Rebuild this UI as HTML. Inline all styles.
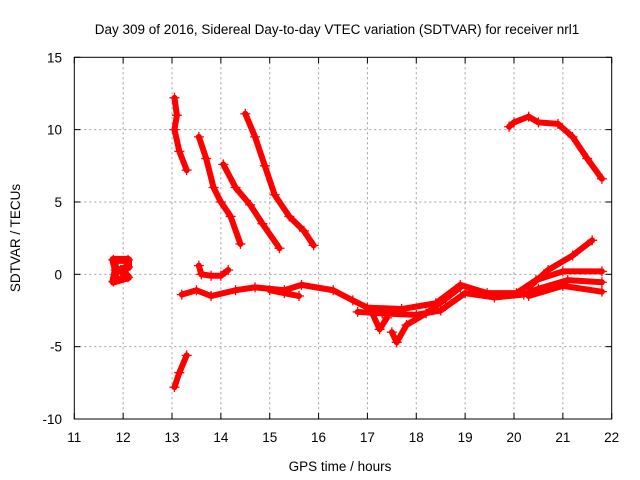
<!DOCTYPE html>
<html><head><meta charset="utf-8"><style>
body{margin:0;background:#fff;}
svg{display:block;font-family:"Liberation Sans",sans-serif;}
</style></head><body>
<svg id="chart" width="640" height="480" viewBox="0 0 640 480">
<rect width="640" height="480" fill="#fff"/>
<text x="337" y="34" font-size="13.5" text-anchor="middle">Day 309 of 2016, Sidereal Day-to-day VTEC variation (SDTVAR) for receiver nrl1</text>
<g id="grid"></g>
<g id="series"></g>
<rect x="74.3" y="57.3" width="537.4" height="361.7" fill="none" stroke="#000" stroke-width="1"/>
<g id="ticks"></g>
<text x="340" y="471" font-size="13.5" text-anchor="middle">GPS time / hours</text>
<text transform="translate(20,238) rotate(-90)" font-size="13.5" text-anchor="middle">SDTVAR / TECUs</text>
</svg>
<script>
const xTicks=[11,12,13,14,15,16,17,18,19,20,21,22];
const yTicks=[-10,-5,0,5,10,15];
const trackCluster12=[[11.8,1],[12.1,1],[12.1,0.5],[11.95,0.3],[12.1,-0.2],[11.8,-0.5],[11.85,0.3],[11.8,1]];
const trackB=[[13.05,12.2],[13.1,11],[13.05,10],[13.15,8.5],[13.3,7.2]];
const trackC=[[13.05,-7.8],[13.15,-6.8],[13.3,-5.6]];
const trackD=[[13.55,9.5],[13.7,8],[13.85,6],[14.0,5],[14.2,4],[14.4,2.1]];
const trackE=[[14.05,7.6],[14.3,6],[14.6,4.8],[14.85,3.5],[15.2,1.8]];
const trackF=[[14.5,11.1],[14.7,9.5],[14.9,7.5],[15.1,5.5],[15.4,4],[15.7,3],[15.9,2]];
const trackG=[[13.55,0.6],[13.6,0],[13.8,-0.1],[14.0,-0.1],[14.15,0.3]];
const trackMain=[[13.2,-1.4],[13.5,-1.1],[13.8,-1.5],[14.3,-1.1],[14.7,-0.9],[15.3,-1.1],[15.65,-0.73],[16.3,-1.1],[16.7,-1.8],[17.0,-2.3],[17.7,-2.4],[18.4,-2.0],[18.9,-0.73],[19.45,-1.3],[20.05,-1.3],[20.45,-0.4],[21.0,0.2],[21.8,0.2]];
const trackLow=[[16.8,-2.6],[17.3,-2.7],[18.0,-2.8],[18.5,-2.5],[19.0,-1.3],[19.6,-1.6],[20.2,-1.4],[20.5,-1.0],[21.1,-0.4],[21.8,-0.55]];
const trackLow2=[[20.3,-1.5],[21.0,-0.8],[21.8,-1.2]];
const trackRise=[[20.3,-0.9],[20.7,0.3],[21.2,1.3],[21.6,2.35]];
const trackDip1=[[17.1,-2.7],[17.25,-3.8],[17.4,-3.0]];
const trackDip2=[[17.5,-4.0],[17.6,-4.7],[17.8,-3.5],[18.2,-2.7],[18.6,-1.7],[18.9,-0.9]];
const trackMid15=[[15.0,-1.1],[15.3,-1.3],[15.6,-1.5]];
const trackTopRight=[[19.9,10.2],[20.0,10.5],[20.3,10.9],[20.5,10.5],[20.9,10.4],[21.2,9.5],[21.5,8],[21.8,6.6]];
const tracks=[trackCluster12,trackB,trackC,trackD,trackE,trackF,trackG,trackMain,trackLow,trackLow2,trackRise,trackDip1,trackDip2,trackMid15,trackTopRight];
const X0=74.3,X1=611.7,Y0=419,Y1=57.3;
function sx(h){return X0+(h-11)/11*(X1-X0);}
function sy(v){return Y0-(v+10)/25*(Y0-Y1);}
const NS='http://www.w3.org/2000/svg';
function mk(t,a,p){const e=document.createElementNS(NS,t);for(const k in a)e.setAttribute(k,a[k]);p.appendChild(e);return e;}
const grid=document.getElementById('grid'),ticks=document.getElementById('ticks'),ser=document.getElementById('series');
xTicks.forEach(t=>{const x=sx(t);
 if(t>11&&t<22){const l=mk('line',{x1:x,x2:x,y1:Y1,y2:Y0,stroke:'#a0a0a0','stroke-dasharray':'2,3'},grid);
 
 }
 const a=mk('line',{x1:x,x2:x,y1:Y0,y2:Y0-6,stroke:'#000'},ticks);
 
 
 const b=mk('line',{x1:x,x2:x,y1:Y1,y2:Y1+6,stroke:'#000'},ticks);
 
 
 const tx=mk('text',{x:x,y:442,'font-size':13.5,'text-anchor':'middle'},ticks);tx.textContent=t;
 
 });
yTicks.forEach(t=>{const y=sy(t);
 if(t>-10&&t<15){const l=mk('line',{x1:X0,x2:X1,y1:y,y2:y,stroke:'#a0a0a0','stroke-dasharray':'2,3'},grid);
 
 }
 const a=mk('line',{x1:X0,x2:X0+6,y1:y,y2:y,stroke:'#000'},ticks);
 
 
 const b=mk('line',{x1:X1,x2:X1-6,y1:y,y2:y,stroke:'#000'},ticks);
 
 
 const tx=mk('text',{x:62,y:y+5,'font-size':13.5,'text-anchor':'end'},ticks);tx.textContent=t;
 
 });
tracks.forEach(tr=>{
 const w=tr===trackCluster12?8:6;
 const pl=mk('polyline',{points:tr.map(p=>sx(p[0])+','+sy(p[1])).join(' '),fill:'none',stroke:'#f00','stroke-width':w,'stroke-linejoin':'round','stroke-linecap':'round'},ser);
 
 
 tr.forEach(p=>{const x=sx(p[0]),y=sy(p[1]);
  const m=mk('path',{d:`M${x-5},${y}H${x+5}M${x},${y-5}V${y+5}`,stroke:'#f00','stroke-width':1.3},ser);
  
  });
});
</script>
</body></html>
